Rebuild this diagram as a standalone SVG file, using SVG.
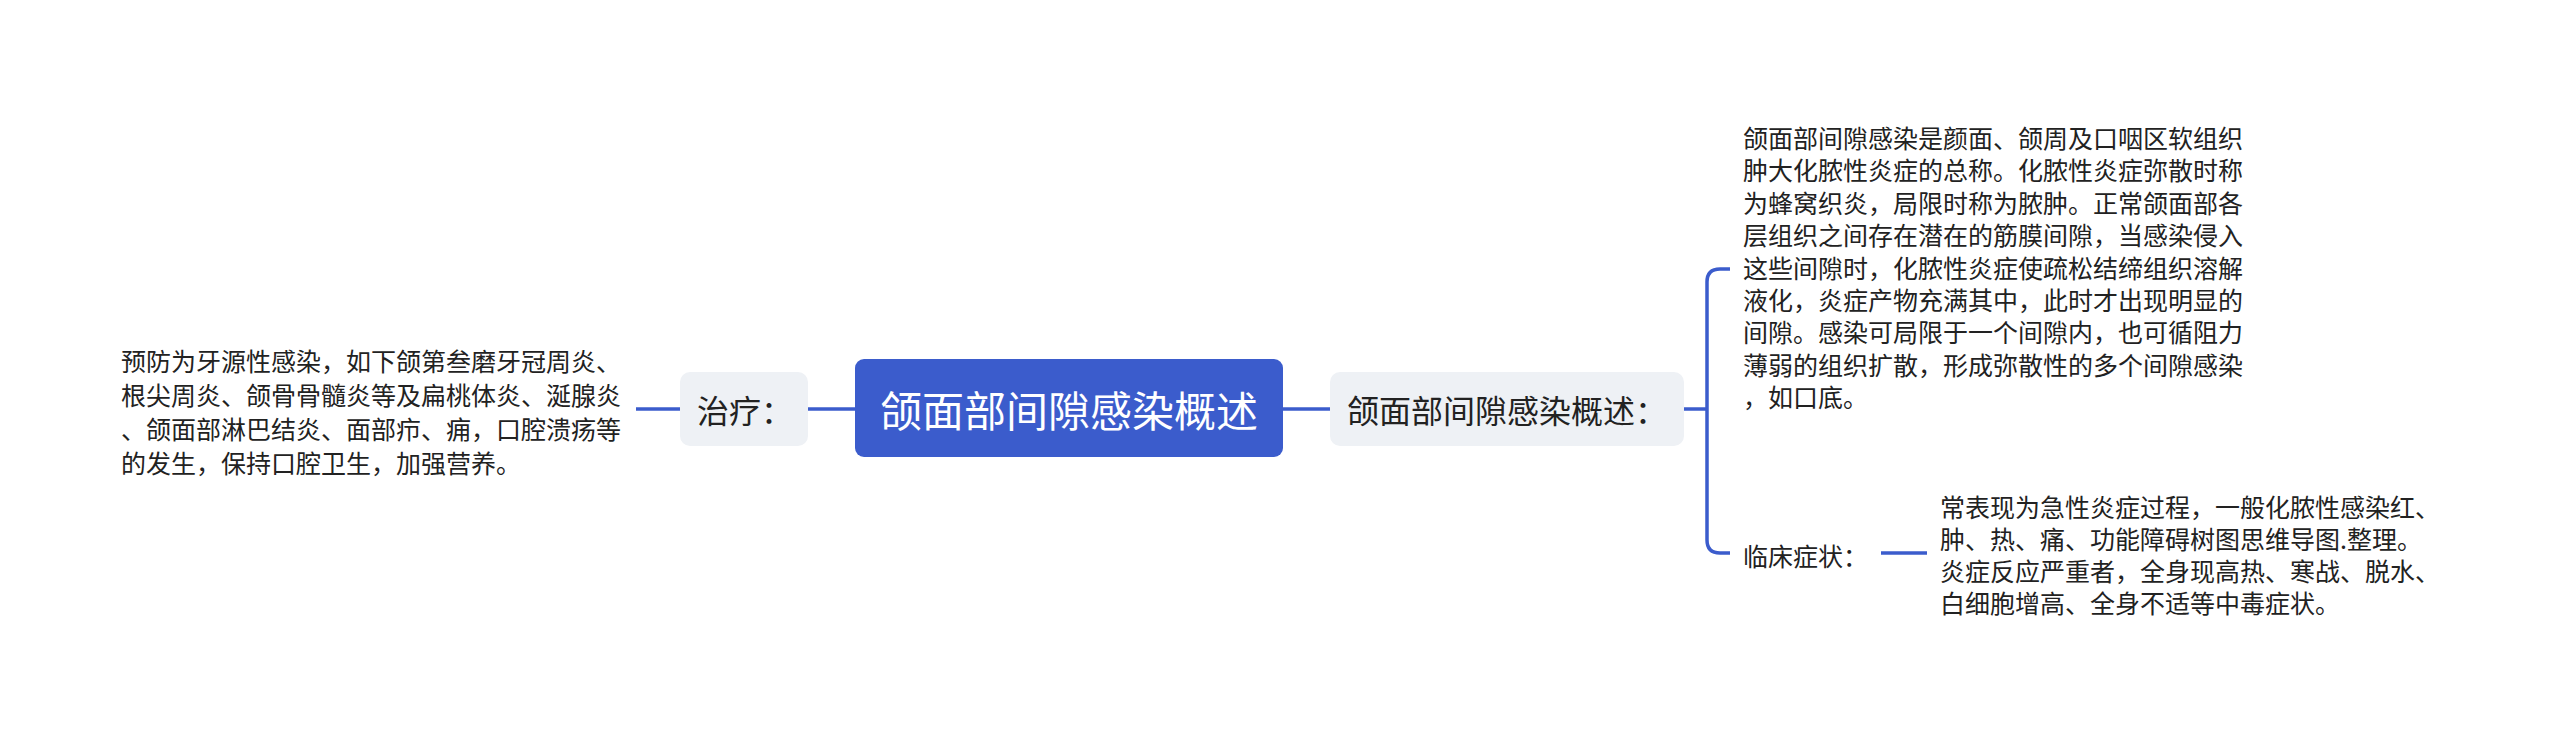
<svg xmlns="http://www.w3.org/2000/svg" width="2560" height="737" viewBox="0 0 2560 737">
<style>
text{font-family:"Noto Sans CJK SC","Noto Sans",sans-serif;dominant-baseline:central;}
.t{font-size:25px;fill:#222;}
.n{font-size:32px;fill:#222;}
.c{font-size:42px;fill:#fff;}
.lb{fill:#eef1f5;}
.ln{stroke:#3b5ccc;stroke-width:3.5;fill:none;}
</style>
<rect width="2560" height="737" fill="#fff"/>
<g id="connectors">
<line class="ln" x1="636" y1="409" x2="680" y2="409"/>
<line class="ln" x1="808" y1="409" x2="855" y2="409"/>
<line class="ln" x1="1283" y1="409" x2="1330" y2="409"/>
<line class="ln" x1="1684" y1="409" x2="1707" y2="409"/>
<path class="ln" d="M1730,269 H1720 Q1707,269 1707,282 V540 Q1707,553 1720,553 H1730"/>
<line class="ln" x1="1881" y1="553" x2="1927" y2="553"/>
</g>
<g id="root">
<rect x="855" y="359" width="428" height="98" rx="9" fill="#3b5ccc"/>
<text class="c" x="1069" y="408" text-anchor="middle">颌面部间隙感染概述</text>
</g>
<g id="zhiliao">
<rect class="lb" x="680" y="372" width="128" height="74" rx="10"/>
<text class="n" x="697" y="409">治疗：</text>
</g>
<g id="zhiliao-text">
<text class="t" x="121" y="360">预防为牙源性感染，如下颌第叁磨牙冠周炎、</text>
<text class="t" x="121" y="394">根尖周炎、颌骨骨髓炎等及扁桃体炎、涎腺炎</text>
<text class="t" x="121" y="428">、颌面部淋巴结炎、面部疖、痈，口腔溃疡等</text>
<text class="t" x="121" y="462">的发生，保持口腔卫生，加强营养。</text>
</g>
<g id="gaishu">
<rect class="lb" x="1330" y="372" width="354" height="74" rx="10"/>
<text class="n" x="1347" y="409">颌面部间隙感染概述：</text>
</g>
<g id="gaishu-text">
<text class="t" x="1743" y="137">颌面部间隙感染是颜面、颌周及口咽区软组织</text>
<text class="t" x="1743" y="169.4">肿大化脓性炎症的总称。化脓性炎症弥散时称</text>
<text class="t" x="1743" y="201.8">为蜂窝织炎，局限时称为脓肿。正常颌面部各</text>
<text class="t" x="1743" y="234.2">层组织之间存在潜在的筋膜间隙，当感染侵入</text>
<text class="t" x="1743" y="266.6">这些间隙时，化脓性炎症使疏松结缔组织溶解</text>
<text class="t" x="1743" y="299">液化，炎症产物充满其中，此时才出现明显的</text>
<text class="t" x="1743" y="331.4">间隙。感染可局限于一个间隙内，也可循阻力</text>
<text class="t" x="1743" y="363.8">薄弱的组织扩散，形成弥散性的多个间隙感染</text>
<text class="t" x="1743" y="396.2">，如口底。</text>
</g>
<g id="linchuang">
<text class="t" x="1743" y="555">临床症状：</text>
</g>
<g id="linchuang-text">
<text class="t" x="1940" y="506">常表现为急性炎症过程，一般化脓性感染红、</text>
<text class="t" x="1940" y="538">肿、热、痛、功能障碍树图思维导图.整理。</text>
<text class="t" x="1940" y="570">炎症反应严重者，全身现高热、寒战、脱水、</text>
<text class="t" x="1940" y="602">白细胞增高、全身不适等中毒症状。</text>
</g>
</svg>
